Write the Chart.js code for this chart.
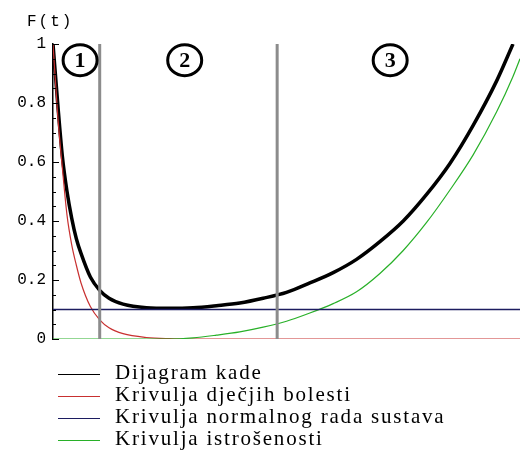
<html>
<head>
<script src="https://cdn.jsdelivr.net/npm/chart.js"></script>
<style>
  html, body { margin:0; padding:0; background:#fff; }
  #wrap { position:relative; width:520px; height:464px; }
  #legend { position:absolute; left:58px; top:361px; font-family:"Liberation Serif", serif; font-size:21px; letter-spacing:1.8px; color:#000; }
  #legend div { height:22px; line-height:22px; white-space:nowrap; }
  #legend span { display:inline-block; width:42px; height:0; border-top:1.5px solid #000; vertical-align:middle; margin-right:15px; }
</style>
</head>
<body>
<div id="wrap">
  <canvas id="c" width="520" height="464"></canvas>
  <div id="legend"></div>
</div>
<script>
// t axis samples
var tValues = [0,0.1,0.2,0.3,0.4,0.5,0.6,0.8,1.0,1.2,1.5,2,2.5,3,3.5,4,4.5,5,5.5,6,6.5,7,7.5,8,8.5,9,9.5,9.85,10];

var bathtub = [1.0,0.80,0.62,0.50,0.41,0.34,0.29,0.21,0.165,0.138,0.118,0.106,0.104,0.106,0.113,0.122,0.138,0.158,0.19,0.225,0.27,0.33,0.40,0.49,0.595,0.725,0.875,1.0,null];
var infant  = [1.0,0.76,0.58,0.42,0.32,0.25,0.19,0.11,0.065,0.038,0.018,0.005,0.001,0,0,0,0,0,0,0,0,0,0,0,0,0,0,0,0];
var normal  = [0.1,0.1,0.1,0.1,0.1,0.1,0.1,0.1,0.1,0.1,0.1,0.1,0.1,0.1,0.1,0.1,0.1,0.1,0.1,0.1,0.1,0.1,0.1,0.1,0.1,0.1,0.1,0.1,0.1];
var wearout = [0,0,0,0,0,0,0,0,0,0,0,0,0,0.004,0.013,0.024,0.04,0.06,0.088,0.12,0.16,0.222,0.30,0.395,0.505,0.625,0.77,0.89,0.95];

var labels = ["Dijagram kade","Krivulja dječjih bolesti","Krivulja normalnog rada sustava","Krivulja istrošenosti"];
var colors = ["#000000","#c83030","#1c1c60","#28b028"];

// phase boundaries and circled phase numbers
var boundaries = [1.0, 4.8];
var phaseNames = ["1","2","3"];
var phaseT = [0.58, 2.82, 7.22];
var phaseY = 0.945;

function pts(vals){
  var out = [];
  for (var i=0;i<tValues.length;i++) out.push({x:tValues[i], y:vals[i]});
  return out;
}

var datasets = [];
boundaries.forEach(function(b){
  datasets.push({data:[{x:b,y:0},{x:b,y:1}], borderColor:"#8c8c8c", borderWidth:3});
});
datasets.push({data:pts(normal),  borderColor:colors[2], borderWidth:1.5});
datasets.push({data:pts(wearout), borderColor:colors[3], borderWidth:1.2, cubicInterpolationMode:"monotone"});
datasets.push({data:pts(infant),  borderColor:colors[1], borderWidth:1.2, cubicInterpolationMode:"monotone"});
datasets.push({data:pts(bathtub), borderColor:colors[0], borderWidth:3.5, cubicInterpolationMode:"monotone"});

var extras = {
  id:"extras",
  afterDraw:function(chart){
    var ctx = chart.ctx, y = chart.scales.y, x = chart.scales.x, a = chart.chartArea;
    ctx.save();
    // tick marks inside the axis
    ctx.strokeStyle = "#000"; ctx.lineWidth = 1;
    y.ticks.forEach(function(t){
      var py = Math.round(y.getPixelForValue(t.value)) + 0.5;
      var len = (Math.round(t.value*20) % 4 === 0) ? 6 : 3;
      ctx.beginPath(); ctx.moveTo(a.left, py); ctx.lineTo(a.left+len, py); ctx.stroke();
    });
    // axis title
    ctx.fillStyle = "#000";
    ctx.font = "16px 'Liberation Mono'";
    ctx.letterSpacing = "2px";
    ctx.textAlign = "left"; ctx.textBaseline = "middle";
    ctx.fillText("F(t)", 27, 22);
    ctx.letterSpacing = "0px";
    // circled phase numbers
    ctx.lineWidth = 3;
    ctx.font = "bold 22px 'Liberation Serif'";
    ctx.textAlign = "center";
    for (var i=0;i<phaseNames.length;i++){
      var cx = x.getPixelForValue(phaseT[i]), cy = y.getPixelForValue(phaseY);
      ctx.beginPath(); ctx.ellipse(cx, cy, 17, 15.5, 0, 0, Math.PI*2); ctx.stroke();
      ctx.fillText(phaseNames[i], cx, cy+1);
    }
    ctx.restore();
  }
};

new Chart(document.getElementById("c"), {
  type:"line",
  data:{datasets:datasets},
  options:{
    responsive:false,
    animation:false,
    layout:{padding:{top:44,bottom:125,left:0,right:0}},
    elements:{point:{radius:0}, line:{fill:false}},
    plugins:{legend:{display:false}, tooltip:{enabled:false}},
    scales:{
      x:{type:"linear", min:0, max:10, display:false},
      y:{
        min:0, max:1,
        afterFit:function(s){ s.width = 53; },
        border:{display:true, color:"#000", width:1.5},
        grid:{drawOnChartArea:false, drawTicks:false},
        ticks:{
          stepSize:0.05, padding:7, color:"#000", autoSkip:false,
          font:{family:"Liberation Mono", size:16},
          callback:function(v){
            if (Math.round(v*20) % 4 !== 0) return "";
            if (v === 0) return "0";
            if (v === 1) return "1";
            return v.toFixed(1);
          }
        }
      }
    }
  },
  plugins:[extras]
});

var lg = document.getElementById("legend");
labels.forEach(function(l, i){
  var d = document.createElement("div");
  var s = document.createElement("span");
  s.style.borderTopColor = colors[i];
  d.appendChild(s);
  d.appendChild(document.createTextNode(l));
  lg.appendChild(d);
});
</script>
</body>
</html>
